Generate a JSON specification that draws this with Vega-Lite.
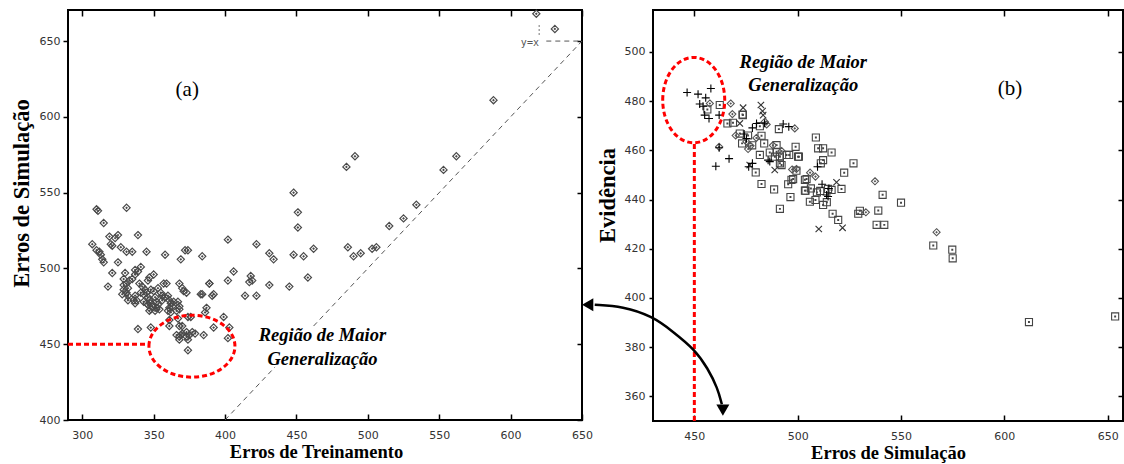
{
  "$schema": "https://vega.github.io/schema/vega-lite/v6.json",
  "background": "white",
  "padding": {"left": 9, "top": 6, "right": 0, "bottom": 0},
  "bounds": "flush",
  "spacing": 71,
  "config": {
    "view": {"stroke": "black", "strokeWidth": 2},
    "axis": {
      "grid": false, "domain": false, "labelFlush": false, "labelOverlap": false,
      "tickColor": "black", "tickWidth": 1.5,
      "labelFont": "DejaVu Sans", "labelFontSize": 11, "labelColor": "#333",
      "titleFont": "Liberation Serif", "titleFontWeight": "bold", "titleColor": "black"
    }
  },
  "datasets": {
    "left": [
      {"x":618,"y":668},{"x":631,"y":658},{"x":588,"y":611},{"x":485,"y":567},{"x":491,"y":574},{"x":553,"y":565},{"x":562,"y":574},
      {"x":448,"y":550},{"x":451,"y":537},{"x":451,"y":527},{"x":515,"y":528},{"x":525,"y":533},{"x":534,"y":542},
      {"x":448,"y":509},{"x":455,"y":508},{"x":462,"y":513},{"x":445,"y":488},{"x":458,"y":494},{"x":486,"y":514},{"x":490,"y":508},
      {"x":495,"y":510},{"x":503,"y":513},{"x":506,"y":514},{"x":402,"y":519},{"x":422,"y":516},{"x":384,"y":508},{"x":431,"y":510},
      {"x":434,"y":506},{"x":406,"y":498},{"x":402,"y":492},{"x":389,"y":490},{"x":418,"y":495},{"x":419,"y":492},{"x":417,"y":491},
      {"x":431,"y":489},{"x":414,"y":482},{"x":422,"y":482},{"x":384,"y":483},{"x":392,"y":483},{"x":391,"y":482},{"x":387,"y":474},
      {"x":386,"y":471},{"x":399,"y":468},{"x":403,"y":461},{"x":402,"y":454},{"x":392,"y":461},{"x":385,"y":456},
      {"x":310,"y":539},{"x":311,"y":538},{"x":331,"y":540},{"x":315,"y":530},{"x":319,"y":521},{"x":325,"y":522},{"x":323,"y":520},
      {"x":339,"y":522},{"x":307,"y":516},{"x":310,"y":512},{"x":312,"y":511},{"x":313,"y":509},{"x":314,"y":506},{"x":315,"y":504},
      {"x":320,"y":516},{"x":321,"y":515},{"x":327,"y":514},{"x":331,"y":511},{"x":335,"y":511},{"x":325,"y":504},{"x":345,"y":511},
      {"x":358,"y":509},{"x":369,"y":506},{"x":372,"y":512},{"x":374,"y":512},{"x":321,"y":497},{"x":318,"y":488},{"x":330,"y":497},
      {"x":341,"y":501},{"x":337,"y":499},{"x":339,"y":498},{"x":337,"y":496},{"x":350,"y":496},{"x":347,"y":494},{"x":346,"y":492},
      {"x":331,"y":490},{"x":329,"y":489},{"x":332,"y":487},{"x":333,"y":492},{"x":335,"y":493},{"x":329,"y":493},{"x":328,"y":483},
      {"x":329,"y":486},{"x":332,"y":482},{"x":331,"y":484},{"x":337,"y":482},{"x":336,"y":479},{"x":337,"y":477},{"x":338,"y":479},
      {"x":332,"y":479},{"x":342,"y":488},{"x":341,"y":484},{"x":343,"y":483},{"x":344,"y":486},{"x":345,"y":484},{"x":346,"y":481},
      {"x":347,"y":479},{"x":348,"y":477},{"x":349,"y":475},{"x":348,"y":473},{"x":347,"y":472},{"x":350,"y":485},{"x":351,"y":481},
      {"x":352,"y":478},{"x":353,"y":476},{"x":352,"y":474},{"x":351,"y":472},{"x":346,"y":476},{"x":345,"y":477},{"x":348,"y":486},
      {"x":355,"y":484},{"x":356,"y":482},{"x":358,"y":481},{"x":360,"y":482},{"x":361,"y":479},{"x":362,"y":477},{"x":361,"y":474},
      {"x":360,"y":472},{"x":362,"y":471},{"x":363,"y":475},{"x":364,"y":478},{"x":359,"y":490},{"x":368,"y":490},{"x":370,"y":487},
      {"x":371,"y":485},{"x":373,"y":484},{"x":367,"y":478},{"x":368,"y":475},{"x":368,"y":473},{"x":366,"y":472},{"x":383,"y":483},
      {"x":389,"y":490},{"x":339,"y":460},{"x":348,"y":461},{"x":361,"y":462},{"x":368,"y":462},{"x":370,"y":462},{"x":374,"y":468},
      {"x":376,"y":468},{"x":367,"y":467},{"x":361,"y":466},{"x":366,"y":456},{"x":368,"y":455},{"x":369,"y":456},{"x":368,"y":453},
      {"x":370,"y":457},{"x":373,"y":458},{"x":375,"y":456},{"x":377,"y":458},{"x":379,"y":457},{"x":373,"y":455},{"x":374,"y":453},
      {"x":374,"y":446},{"x":357,"y":490},{"x":353,"y":487},{"x":356,"y":479},{"x":354,"y":473},{"x":343,"y":478},{"x":340,"y":490}
    ],
    "yx": [
      {"x":400,"y":400,"seg":"a"},{"x":435,"y":435,"seg":"a"},
      {"x":462,"y":462,"seg":"b"},{"x":650,"y":650,"seg":"b"},
      {"x":625,"y":650,"seg":"c"},{"x":650,"y":650,"seg":"c"}
    ],
    "plus": [
      {"x":446.5,"y":483.5},{"x":451.8,"y":482.8},{"x":458,"y":485.1},{"x":455.5,"y":481.3},{"x":452.6,"y":478.8},{"x":454.2,"y":477.9},
      {"x":455,"y":474.3},{"x":457.1,"y":472.9},{"x":462,"y":474.3},{"x":466.8,"y":456.6},{"x":460.4,"y":453.5},{"x":478.1,"y":469.1},
      {"x":480.1,"y":470.9},{"x":478.1,"y":454.7},{"x":476.3,"y":453.3},{"x":493,"y":470.7},{"x":495.7,"y":469.6},{"x":474.1,"y":466.6},
      {"x":475.2,"y":464.8},{"x":485.7,"y":456},{"x":486.5,"y":455.4},{"x":509.6,"y":453.3},{"x":511.8,"y":446.2},{"x":514,"y":441.8},
      {"x":514.7,"y":441.2},{"x":515.1,"y":444.5},{"x":462,"y":461},{"x":484,"y":471}
    ],
    "cross": [
      {"x":482.2,"y":478.4},{"x":483,"y":475.9},{"x":483.3,"y":474.3},{"x":473.6,"y":477.3},{"x":472,"y":470.9},{"x":476.8,"y":454},
      {"x":488.9,"y":452},{"x":510.2,"y":428},{"x":521.7,"y":428.5},{"x":518.8,"y":447}
    ],
    "diamond": [
      {"x":457.5,"y":479},{"x":467.6,"y":479},{"x":468.4,"y":474.7},{"x":462,"y":461.4},{"x":476,"y":460.5},{"x":477.2,"y":461.8},
      {"x":475.2,"y":463.5},{"x":484.1,"y":471.6},{"x":485,"y":470.5},{"x":498.6,"y":468.9},{"x":497.3,"y":452.2},{"x":499.4,"y":452.4},
      {"x":492.2,"y":459.7},{"x":506,"y":450.9},{"x":508.6,"y":449.3},{"x":537.4,"y":447.4},{"x":533,"y":434.8},{"x":567.2,"y":426.7},
      {"x":480,"y":465},{"x":488,"y":462},{"x":470,"y":466}
    ],
    "square": [
      {"x":456.3,"y":476.6},{"x":462.3,"y":478.4},{"x":466,"y":470.9},{"x":468.7,"y":471.2},{"x":473.3,"y":474.5},{"x":473.5,"y":474.3},
      {"x":481.7,"y":469.8},{"x":472,"y":466.8},{"x":473.1,"y":462.8},{"x":481.7,"y":458.1},{"x":482.5,"y":465.9},{"x":483.8,"y":462.8},
      {"x":486.5,"y":459.1},{"x":489.8,"y":459.4},{"x":489,"y":457.4},{"x":491.4,"y":457.4},{"x":491.4,"y":454.7},{"x":492.2,"y":454},
      {"x":479.7,"y":451},{"x":489.8,"y":462.1},{"x":494.6,"y":458.1},{"x":495.9,"y":458.1},{"x":499,"y":461.4},{"x":500.2,"y":457.4},
      {"x":490.9,"y":468.6},{"x":482.5,"y":446.3},{"x":488.6,"y":444.1},{"x":496.5,"y":441},{"x":495.4,"y":446.2},{"x":497,"y":448},
      {"x":497.8,"y":448.3},{"x":491.4,"y":436.2},{"x":503.5,"y":448},{"x":503.5,"y":443.6},{"x":508.8,"y":465.2},{"x":509.9,"y":460.8},
      {"x":512.3,"y":460.8},{"x":516.4,"y":459.1},{"x":500.6,"y":457.4},{"x":499.4,"y":451.7},{"x":512.3,"y":456},{"x":511.2,"y":454.7},
      {"x":527,"y":454.7},{"x":522.5,"y":450.9},{"x":504.3,"y":448.3},{"x":503.8,"y":443.6},{"x":506.4,"y":444.5},{"x":509.3,"y":442.9},
      {"x":510.9,"y":443.5},{"x":505.9,"y":439.1},{"x":508.6,"y":439.8},{"x":516.4,"y":443.9},{"x":514.7,"y":444.3},{"x":521.2,"y":444.3},
      {"x":512.3,"y":437.8},{"x":514.1,"y":438.9},{"x":516.9,"y":434.2},{"x":519.6,"y":431.7},{"x":529.3,"y":434.2},{"x":530.1,"y":435.4},
      {"x":539,"y":435.5},{"x":541.1,"y":441.9},{"x":550,"y":438.7},{"x":538.2,"y":429.7},{"x":541.9,"y":429.7},{"x":565.6,"y":421.3},
      {"x":574.8,"y":419.6},{"x":575,"y":416.1},{"x":611.9,"y":390.2},{"x":653.6,"y":392.5},{"x":476,"y":466},{"x":478,"y":462}
    ],
    "arrow": [
      {"x":401.8,"y":397.2},{"x":415.3,"y":396.6},{"x":429.9,"y":392.5},{"x":439.5,"y":386.4},{"x":450.2,"y":379.1},
      {"x":456.5,"y":371.4},{"x":461.3,"y":363.3},{"x":463.3,"y":356.8}
    ]
  },
  "hconcat": [
    {
      "width": 514,
      "height": 410,
      "layer": [
        {
          "data": {"name": "left"},
          "mark": {"type": "point", "shape": "M0,-1L1,0L0,1L-1,0ZM-0.15,0L0,-0.15L0.15,0L0,0.15Z", "filled": false, "stroke": "#4a4a4a", "strokeWidth": 1.2, "size": 52, "opacity": 1},
          "encoding": {
            "x": {"field": "x", "type": "quantitative", "scale": {"domain": [290, 650], "nice": false, "zero": false},
              "axis": {"values": [300,350,400,450,500,550,600,650], "title": "Erros de Treinamento", "titleFontSize": 18.5, "titleX": 248, "titlePadding": 2, "tickSize": -6, "labelPadding": 15}},
            "y": {"field": "y", "type": "quantitative", "scale": {"domain": [400, 670.5], "nice": false, "zero": false},
              "axis": {"values": [400,450,500,550,600,650], "title": "Erros de Simulação", "titleFontSize": 22.5, "titleY": 183, "titlePadding": 6, "tickSize": 5, "labelPadding": 3}}
          }
        },
        {
          "data": {"name": "yx"},
          "mark": {"type": "line", "stroke": "#555", "strokeWidth": 1, "strokeDash": [5, 4]},
          "encoding": {
            "x": {"field": "x", "type": "quantitative", "scale": {"domain": [290, 650], "nice": false, "zero": false},
              "axis": {"orient": "top", "values": [300,350,400,450,500,550,600,650], "labels": false, "title": null, "tickSize": -6}},
            "y": {"field": "y", "type": "quantitative", "scale": {"domain": [400, 670.5], "nice": false, "zero": false},
              "axis": {"orient": "right", "values": [400,450,500,550,600,650], "labels": false, "title": null, "tickSize": -5}},
            "detail": {"field": "seg"}
          }
        },
        {
          "data": {"values": [{"x": 620, "y": 654, "y2": 661}]},
          "mark": {"type": "rule", "stroke": "#777", "strokeWidth": 1, "strokeDash": [2, 2]},
          "encoding": {
            "x": {"field": "x", "type": "quantitative", "axis": null},
            "y": {"field": "y", "type": "quantitative", "axis": null},
            "y2": {"field": "y2"}
          }
        },
        {
          "data": {"values": [{"x": 290, "x2": 347, "y": 450}]},
          "mark": {"type": "rule", "stroke": "#f00", "strokeWidth": 3, "strokeDash": [5, 3]},
          "encoding": {
            "x": {"field": "x", "type": "quantitative", "axis": null},
            "x2": {"field": "x2"},
            "y": {"field": "y", "type": "quantitative", "axis": null}
          }
        },
        {
          "data": {"values": [{"x": 376.8, "y": 448.7}]},
          "mark": {"type": "point", "shape": "M-1,0A1,0.72,0,1,1,1,0A1,0.72,0,1,1,-1,0Z", "filled": false, "stroke": "#f00", "strokeWidth": 3, "strokeDash": [5, 3], "size": 7396, "opacity": 1},
          "encoding": {
            "x": {"field": "x", "type": "quantitative", "axis": null},
            "y": {"field": "y", "type": "quantitative", "axis": null}
          }
        },
        {
          "data": {"values": [{"x": 373.5, "y": 618, "t": "(a)"}]},
          "mark": {"type": "text", "font": "Liberation Serif", "fontSize": 21, "color": "black", "align": "center", "baseline": "middle"},
          "encoding": {
            "x": {"field": "x", "type": "quantitative", "axis": null},
            "y": {"field": "y", "type": "quantitative", "axis": null},
            "text": {"field": "t"}
          }
        },
        {
          "data": {"values": [{"x": 613.5, "y": 648.5, "t": "y=x"}]},
          "mark": {"type": "text", "font": "DejaVu Sans Mono", "fontSize": 10, "color": "#555", "align": "center", "baseline": "middle"},
          "encoding": {
            "x": {"field": "x", "type": "quantitative", "axis": null},
            "y": {"field": "y", "type": "quantitative", "axis": null},
            "text": {"field": "t"}
          }
        },
        {
          "data": {"values": [{"x": 468.2, "y": 456.2, "t": "Região de Maior\nGeneralização"}]},
          "mark": {"type": "text", "font": "Liberation Serif", "fontSize": 18.5, "fontWeight": "bold", "fontStyle": "italic", "color": "black", "align": "center", "baseline": "middle", "lineBreak": "\n", "lineHeight": 24},
          "encoding": {
            "x": {"field": "x", "type": "quantitative", "axis": null},
            "y": {"field": "y", "type": "quantitative", "axis": null},
            "text": {"field": "t"}
          }
        }
      ],
      "resolve": {"axis": {"x": "independent", "y": "independent"}}
    },
    {
      "width": 470,
      "height": 411,
      "layer": [
        {
          "data": {"name": "square"},
          "mark": {"type": "point", "shape": "M-1,-1H1V1H-1ZM-0.12,-0.12H0.12V0.12H-0.12Z", "filled": false, "stroke": "#444", "strokeWidth": 1.1, "size": 50, "opacity": 1},
          "encoding": {
            "x": {"field": "x", "type": "quantitative", "scale": {"domain": [430, 657.4], "nice": false, "zero": false},
              "axis": {"values": [450,500,550,600,650], "title": "Erros de Simulação", "titleFontSize": 18.5, "titlePadding": 2, "tickSize": -6, "labelPadding": 15}},
            "y": {"field": "y", "type": "quantitative", "scale": {"domain": [350, 517], "nice": false, "zero": false},
              "axis": {"values": [360,380,400,420,440,460,480,500], "title": "Evidência", "titleFontSize": 22.5, "titleY": 185, "titlePadding": 5, "tickSize": 4, "labelPadding": 4}}
          }
        },
        {
          "data": {"name": "diamond"},
          "mark": {"type": "point", "shape": "M0,-1L1,0L0,1L-1,0ZM-0.15,0L0,-0.15L0.15,0L0,0.15Z", "filled": false, "stroke": "#555", "strokeWidth": 1.1, "size": 50, "opacity": 1},
          "encoding": {
            "x": {"field": "x", "type": "quantitative", "scale": {"domain": [430, 657.4], "nice": false, "zero": false},
              "axis": {"orient": "top", "values": [450,500,550,600,650], "labels": false, "title": null, "tickSize": -6}},
            "y": {"field": "y", "type": "quantitative", "scale": {"domain": [350, 517], "nice": false, "zero": false},
              "axis": {"orient": "right", "values": [360,380,400,420,440,460,480,500], "labels": false, "title": null, "tickSize": -5}}
          }
        },
        {
          "data": {"name": "cross"},
          "mark": {"type": "point", "shape": "M-0.8,-0.8L0.8,0.8M-0.8,0.8L0.8,-0.8", "filled": false, "stroke": "#333", "strokeWidth": 1.1, "size": 64, "opacity": 1},
          "encoding": {
            "x": {"field": "x", "type": "quantitative", "axis": null},
            "y": {"field": "y", "type": "quantitative", "axis": null}
          }
        },
        {
          "data": {"name": "plus"},
          "mark": {"type": "point", "shape": "M-1,0H1M0,-1V1", "filled": false, "stroke": "black", "strokeWidth": 1.1, "size": 64, "opacity": 1},
          "encoding": {
            "x": {"field": "x", "type": "quantitative", "axis": null},
            "y": {"field": "y", "type": "quantitative", "axis": null}
          }
        },
        {
          "data": {"values": [{"x": 450, "y": 350, "y2": 463}]},
          "mark": {"type": "rule", "stroke": "#f00", "strokeWidth": 3, "strokeDash": [5, 3]},
          "encoding": {
            "x": {"field": "x", "type": "quantitative", "axis": null},
            "y": {"field": "y", "type": "quantitative", "axis": null},
            "y2": {"field": "y2"}
          }
        },
        {
          "data": {"values": [{"x": 449.7, "y": 480.4}]},
          "mark": {"type": "point", "shape": "M-0.726,0A0.726,1,0,1,1,0.726,0A0.726,1,0,1,1,-0.726,0Z", "filled": false, "stroke": "#f00", "strokeWidth": 3, "strokeDash": [5, 3], "size": 7293, "opacity": 1},
          "encoding": {
            "x": {"field": "x", "type": "quantitative", "axis": null},
            "y": {"field": "y", "type": "quantitative", "axis": null}
          }
        },
        {
          "data": {"name": "arrow"},
          "mark": {"type": "line", "stroke": "black", "strokeWidth": 2.5, "interpolate": "basis", "clip": false},
          "encoding": {
            "x": {"field": "x", "type": "quantitative", "axis": null},
            "y": {"field": "y", "type": "quantitative", "axis": null}
          }
        },
        {
          "data": {"values": [{"x": 398.4, "y": 397.2}]},
          "mark": {"type": "point", "shape": "triangle-left", "filled": true, "color": "black", "size": 169, "opacity": 1, "clip": false},
          "encoding": {
            "x": {"field": "x", "type": "quantitative", "axis": null},
            "y": {"field": "y", "type": "quantitative", "axis": null}
          }
        },
        {
          "data": {"values": [{"x": 463.8, "y": 354.4}]},
          "mark": {"type": "point", "shape": "triangle-down", "filled": true, "color": "black", "size": 169, "opacity": 1, "clip": false},
          "encoding": {
            "x": {"field": "x", "type": "quantitative", "axis": null},
            "y": {"field": "y", "type": "quantitative", "axis": null}
          }
        },
        {
          "data": {"values": [{"x": 602.7, "y": 485.1, "t": "(b)"}]},
          "mark": {"type": "text", "font": "Liberation Serif", "fontSize": 21, "color": "black", "align": "center", "baseline": "middle"},
          "encoding": {
            "x": {"field": "x", "type": "quantitative", "axis": null},
            "y": {"field": "y", "type": "quantitative", "axis": null},
            "text": {"field": "t"}
          }
        },
        {
          "data": {"values": [{"x": 502.7, "y": 495.9, "t": "Região de Maior\nGeneralização"}]},
          "mark": {"type": "text", "font": "Liberation Serif", "fontSize": 18.5, "fontWeight": "bold", "fontStyle": "italic", "color": "black", "align": "center", "baseline": "middle", "lineBreak": "\n", "lineHeight": 23},
          "encoding": {
            "x": {"field": "x", "type": "quantitative", "axis": null},
            "y": {"field": "y", "type": "quantitative", "axis": null},
            "text": {"field": "t"}
          }
        }
      ],
      "resolve": {"axis": {"x": "independent", "y": "independent"}}
    }
  ]
}
